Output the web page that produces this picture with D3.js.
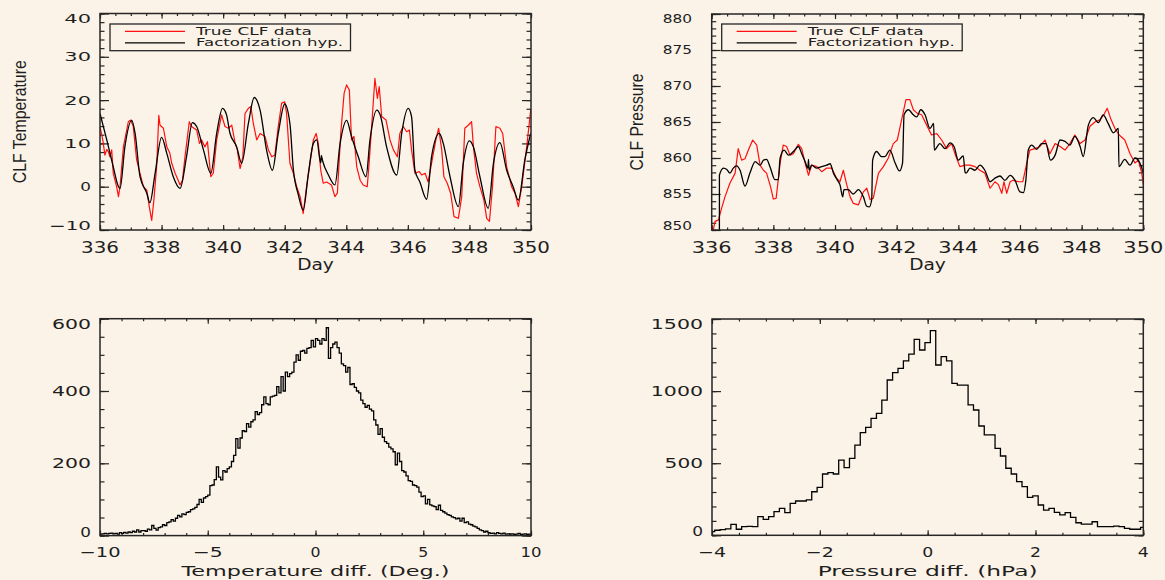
<!DOCTYPE html>
<html><head><meta charset="utf-8">
<script src="https://cdn.jsdelivr.net/npm/d3@7"></script>
<style>body{margin:0;background:#FBF3E7}svg{display:block}</style>
</head><body><svg id="c" width="1165" height="580"></svg>
<script>
// ---------------- DATA ----------------
const legendLabels = ["True CLF data", "Factorization hyp."];

// Temperature time series [day, value]
const tempTrue = [[336.00,13.9],[336.09,10.8],[336.16,7.3],[336.22,8.6],[336.27,8.1],[336.32,6.9],[336.38,8.5],[336.43,3.1],[336.54,0.0],[336.60,-2.3],[336.65,0.0],[336.76,9.2],[336.92,15.0],[337.00,15.4],[337.08,13.9],[337.19,6.2],[337.30,3.1],[337.41,0.0],[337.52,-0.8],[337.60,-4.6],[337.68,-7.8],[337.75,-3.1],[337.84,4.6],[337.91,16.5],[337.95,14.2],[338.06,13.5],[338.17,9.2],[338.27,7.7],[338.33,5.4],[338.44,3.1],[338.54,1.5],[338.60,0.4],[338.68,1.5],[338.76,6.9],[338.90,15.0],[338.97,13.9],[339.14,13.1],[339.23,10.0],[339.30,10.8],[339.41,9.2],[339.49,10.4],[339.60,2.3],[339.68,3.1],[339.79,10.8],[339.95,16.6],[340.06,13.9],[340.17,13.5],[340.28,14.2],[340.39,10.0],[340.46,8.5],[340.55,4.2],[340.64,6.9],[340.71,16.9],[340.82,18.1],[340.90,18.5],[340.98,14.6],[341.09,10.8],[341.20,12.3],[341.36,11.6],[341.47,8.5],[341.58,6.9],[341.68,7.3],[341.79,13.9],[341.90,19.3],[342.00,19.6],[342.06,17.0],[342.17,5.4],[342.28,3.1],[342.39,0.0],[342.50,-2.3],[342.60,-6.2],[342.71,0.0],[342.82,5.4],[342.93,10.8],[343.02,12.3],[343.09,10.0],[343.17,3.8],[343.25,0.8],[343.36,1.1],[343.52,0.4],[343.63,-2.3],[343.71,-1.5],[343.82,12.3],[343.93,21.6],[344.01,23.5],[344.10,22.3],[344.17,10.8],[344.25,11.6],[344.34,4.6],[344.45,1.5],[344.55,0.4],[344.68,0.0],[344.75,6.2],[344.86,17.7],[344.93,25.0],[345.01,20.4],[345.07,23.1],[345.15,16.2],[345.29,15.4],[345.42,10.8],[345.53,8.5],[345.66,6.9],[345.74,12.3],[345.85,13.9],[345.96,12.7],[346.05,13.1],[346.12,8.5],[346.23,3.1],[346.37,3.5],[346.45,2.7],[346.56,3.1],[346.66,1.1],[346.77,5.4],[346.91,10.8],[347.00,13.5],[347.10,8.5],[347.17,2.3],[347.28,0.8],[347.39,-1.5],[347.50,-6.9],[347.64,-7.3],[347.75,-2.3],[347.85,13.5],[347.96,14.2],[348.07,15.0],[348.13,9.2],[348.23,3.1],[348.34,0.0],[348.47,-3.1],[348.56,-7.3],[348.65,-8.0],[348.75,0.0],[348.86,13.9],[348.99,13.5],[349.08,12.3],[349.21,4.6],[349.37,0.0],[349.48,-1.5],[349.59,-4.6],[349.70,0.0],[349.86,9.2],[349.99,17.7]];

const tempFact = [[336.00,16.9],[336.22,10.8],[336.43,4.6],[336.60,0.0],[336.65,-0.4],[336.81,9.3],[337.03,15.3],[337.14,12.3],[337.30,2.3],[337.52,-1.5],[337.62,-3.7],[337.79,3.1],[338.00,11.4],[338.17,7.7],[338.38,2.3],[338.60,-0.4],[338.81,6.9],[339.00,14.8],[339.14,13.9],[339.36,8.5],[339.60,3.1],[339.79,12.3],[339.98,18.1],[340.11,16.6],[340.22,12.4],[340.44,9.2],[340.60,5.4],[340.82,14.6],[341.01,20.6],[341.20,17.7],[341.41,8.5],[341.60,3.8],[341.79,12.3],[342.00,19.1],[342.17,14.5],[342.28,4.0],[342.44,-1.8],[342.60,-5.4],[342.77,3.1],[342.93,10.0],[343.04,10.8],[343.17,5.5],[343.19,7.2],[343.23,6.0],[343.42,2.7],[343.63,0.4],[343.80,10.0],[344.01,15.3],[344.17,11.6],[344.39,6.9],[344.64,2.3],[344.77,10.8],[344.99,17.7],[345.10,16.6],[345.31,9.2],[345.64,2.7],[345.80,12.3],[346.01,18.1],[346.12,16.2],[346.23,3.8],[346.39,1.1],[346.61,-2.9],[346.77,6.9],[347.02,12.3],[347.15,10.0],[347.37,2.3],[347.64,-4.6],[347.80,5.4],[348.00,10.6],[348.13,9.2],[348.34,2.3],[348.61,-5.0],[348.78,5.4],[348.99,10.2],[349.21,3.8],[349.42,0.0],[349.59,-3.1],[349.80,6.2],[349.99,12.3]];

// Pressure time series [day, value]
const presTrue = [[336.00,849.0],[336.05,850.0],[336.11,851.2],[336.22,851.4],[336.32,853.0],[336.43,854.6],[336.59,856.5],[336.76,857.9],[336.86,861.3],[336.97,859.7],[337.08,859.9],[337.19,861.1],[337.33,862.5],[337.46,861.8],[337.57,859.0],[337.68,858.3],[337.78,857.9],[337.91,856.0],[338.00,854.3],[338.09,854.4],[338.22,859.3],[338.32,861.8],[338.43,861.6],[338.54,860.4],[338.65,860.6],[338.81,861.9],[338.92,861.3],[339.03,859.3],[339.14,857.6],[339.24,859.0],[339.41,858.8],[339.57,858.1],[339.73,858.6],[339.89,858.6],[340.05,857.2],[340.16,856.7],[340.27,858.3],[340.38,856.3],[340.49,854.6],[340.59,853.7],[340.76,853.5],[340.92,855.3],[341.03,855.8],[341.14,854.2],[341.24,854.4],[341.41,857.9],[341.57,858.8],[341.73,860.0],[341.89,862.0],[342.02,862.5],[342.16,865.3],[342.30,868.1],[342.43,868.1],[342.54,866.7],[342.67,866.2],[342.81,866.0],[342.97,864.6],[343.13,863.2],[343.30,863.4],[343.46,862.5],[343.62,861.3],[343.78,862.0],[343.89,860.6],[344.05,858.8],[344.22,859.0],[344.38,859.0],[344.54,858.8],[344.70,858.3],[344.86,857.9],[345.03,855.8],[345.19,856.7],[345.30,856.3],[345.41,855.1],[345.48,856.7],[345.57,855.1],[345.68,856.7],[345.78,856.9],[345.95,856.7],[346.09,856.7],[346.22,859.3],[346.32,861.1],[346.49,861.3],[346.65,861.6],[346.81,862.5],[346.97,860.6],[347.14,862.0],[347.30,861.6],[347.46,861.1],[347.62,862.0],[347.78,863.2],[347.95,862.0],[348.11,862.5],[348.27,864.4],[348.43,865.0],[348.59,865.3],[348.72,866.0],[348.83,866.9],[348.94,865.5],[349.08,864.1],[349.22,863.2],[349.40,862.5],[349.57,860.6],[349.73,859.3],[349.84,859.7],[349.95,857.9],[350.00,856.3]];

const presFact = [[336.25,849.0],[336.25,857.6],[336.38,858.6],[336.49,858.4],[336.59,857.9],[336.70,858.6],[336.81,858.9],[336.92,858.3],[337.08,856.1],[337.24,857.9],[337.41,859.5],[337.57,859.0],[337.68,859.7],[337.78,859.8],[337.89,858.8],[338.05,857.0],[338.16,857.0],[338.22,860.0],[338.35,861.1],[338.49,860.4],[338.65,860.9],[338.81,861.6],[338.92,860.6],[339.03,859.5],[339.12,858.6],[339.14,859.8],[339.16,858.3],[339.24,859.0],[339.41,858.6],[339.57,858.8],[339.73,859.0],[339.84,859.2],[339.95,857.9],[340.08,856.9],[340.16,856.3],[340.25,854.6],[340.29,855.6],[340.43,855.6],[340.59,855.0],[340.76,855.6],[340.92,854.6],[341.03,853.3],[341.11,853.2],[341.19,854.2],[341.22,859.7],[341.35,860.9],[341.51,860.2],[341.62,860.2],[341.78,861.1],[341.95,859.3],[342.09,858.2],[342.19,859.3],[342.24,866.0],[342.38,866.7],[342.54,866.0],[342.65,865.7],[342.78,866.7],[342.92,866.0],[343.08,864.1],[343.20,864.8],[343.22,861.1],[343.40,862.0],[343.57,861.3],[343.73,862.1],[343.86,861.6],[344.00,859.7],[344.16,860.3],[344.22,858.0],[344.25,857.9],[344.38,858.6],[344.54,858.3],[344.70,859.0],[344.86,858.3],[345.03,856.7],[345.19,857.2],[345.35,857.5],[345.51,856.9],[345.68,857.6],[345.84,856.9],[346.00,855.3],[346.11,855.2],[346.19,856.9],[346.27,861.1],[346.38,861.8],[346.54,861.2],[346.70,862.0],[346.84,862.0],[346.99,859.7],[347.14,860.4],[347.30,862.5],[347.46,862.3],[347.62,861.8],[347.78,863.0],[347.95,861.6],[348.05,860.2],[348.22,864.6],[348.38,865.6],[348.54,864.9],[348.70,866.0],[348.86,864.8],[349.03,863.5],[349.19,864.1],[349.21,858.8],[349.40,859.8],[349.57,859.0],[349.73,860.0],[349.89,859.3],[350.00,857.9]];

// Histogram of temperature differences: bins of 0.1 deg from -10 to 10
const tempDiffStart = -10, tempDiffWidth = 0.1;
const tempDiffCounts = [4,5,6,5,6,7,5,6,4,8, 6,9,7,10,8,12,10,16,10,14,
 14,12,18,16,28,20,15,22,24,30, 28,36,38,44,40,48,56,52,60,58,
 64,66,72,74,78,86,100,92,104,108, 112,138,140,155,190,162,154,180,176,185,
 190,205,222,268,242,270,290,288,310,300, 315,320,343,335,340,362,384,365,362,384,
 386,388,412,395,440,400,452,440,448,452, 480,500,485,510,512,505,518,520,540,522,
 545,540,530,545,540,575,490,520,530,535, 520,505,475,470,452,465,418,420,410,400,
 395,375,365,355,360,350,345,320,306,280, 296,272,260,255,245,240,232,196,228,205,
 180,176,165,152,150,140,138,134,120,108, 110,88,100,85,82,80,72,84,70,66,
 62,58,56,52,50,46,48,40,48,36, 38,32,30,26,24,20,16,14,10,12,
 8,6,7,5,8,6,5,7,4,5, 4,5,3,4,6,3,4,5,3,4];

// Histogram of pressure differences: bins of 0.1 hPa starting at -4.05
const presDiffStart = -4.05, presDiffWidth = 0.1;
const presDiffCounts = [25,35,40,45,76,42,60,62,60,129, 111,129,164,187,157,222,238,238,245,302,
 333,425,434,425,522,469,534,626,712,749, 811,846,938,1077,1128,1158,1209,1257,1359,1285,
 1336,1419,1181,1239,1209,1054,1042,1042,904,869, 758,696,696,603,550,465,425,372,337,263,
 273,210,175,187,159,141,157,125,87,78, 78,94,60,60,60,64,60,48,42,42, 55];

// ---------------- DRAWING ----------------
const BG = "#FBF3E7", AX = "#262626", RED = "#FF1010";
const svg = d3.select("#c");
svg.append("rect").attr("width",1165).attr("height",580).attr("fill",BG);
const defs = svg.append("defs");
const FONT = "DejaVu Sans";

function fmt(v){ const s = String(Math.abs(v)); return (v<0?"\u2212":"") + s; }

function label(g, txt, x, yc, anchor, fs, w) {
  g.append("text").attr("x",x).attr("y",yc + 0.36*fs)
   .attr("text-anchor",anchor).attr("font-family",FONT).attr("font-size",fs)
   .attr("textLength",w).attr("lengthAdjust","spacingAndGlyphs")
   .attr("fill","#1e1e1e").text(txt);
}

function panel(c, id) {
  const x = d3.scaleLinear().domain(c.xdom).range([c.x0,c.x1]);
  const y = d3.scaleLinear().domain(c.ydom).range([c.y1,c.y0]);
  const g = svg.append("g");
  defs.append("clipPath").attr("id",id).append("rect")
    .attr("x",c.x0).attr("y",c.y0).attr("width",c.x1-c.x0).attr("height",c.y1-c.y0);

  const xMaj = d3.range(c.xdom[0], c.xdom[1]+1e-9, c.xStep);
  const xMin = d3.range(c.xdom[0], c.xdom[1]+1e-9, c.xMinor);
  const yMaj = d3.range(c.ydom[0], c.ydom[1]+1e-9, c.yStep);
  const yMin = d3.range(c.ydom[0], c.ydom[1]+1e-9, c.yMinor);
  const ax = (gen, tr) => g.append("g").attr("transform",tr).call(gen).call(s=>{
    s.selectAll("text").remove(); s.select(".domain").remove();
    s.selectAll("line").attr("stroke",AX).attr("stroke-width",1.2);
  });
  ax(d3.axisBottom(x).tickValues(xMaj).tickSize(-c.xTick), `translate(0,${c.y1})`);
  ax(d3.axisBottom(x).tickValues(xMin).tickSize(-c.xTick/2), `translate(0,${c.y1})`);
  ax(d3.axisTop(x).tickValues(xMaj).tickSize(-c.xTick), `translate(0,${c.y0})`);
  ax(d3.axisTop(x).tickValues(xMin).tickSize(-c.xTick/2), `translate(0,${c.y0})`);
  ax(d3.axisLeft(y).tickValues(yMaj).tickSize(-c.yTick), `translate(${c.x0},0)`);
  ax(d3.axisLeft(y).tickValues(yMin).tickSize(-c.yTick/2), `translate(${c.x0},0)`);
  ax(d3.axisRight(y).tickValues(yMaj).tickSize(-c.yTick), `translate(${c.x1},0)`);
  ax(d3.axisRight(y).tickValues(yMin).tickSize(-c.yTick/2), `translate(${c.x1},0)`);

  xMaj.forEach(v=>{
    const t = fmt(v), nd = String(Math.abs(v)).length;
    label(g, t, x(v), c.xLabY, "middle", c.xFs, c.xW(nd, v<0));
  });
  yMaj.forEach(v=>{
    const t = fmt(v), nd = String(Math.abs(v)).length;
    let yc = y(v);
    yc = Math.max(c.y0+5, Math.min(c.y1-4, yc));
    label(g, t, c.yLabX, yc, "end", c.yFs, c.yW(nd, v<0));
  });
  label(g, c.xTitle, (c.x0+c.x1)/2, c.xTitleY, "middle", c.xTitleFs, c.xTitleW);
  if (c.yTitle) {
    g.append("text").attr("transform",`translate(${c.yTitleX},${(c.y0+c.y1)/2}) rotate(-90)`)
      .attr("text-anchor","middle").attr("font-family","Liberation Sans Narrow, Liberation Sans")
      .attr("font-size",18).attr("textLength",c.yTitleW).attr("lengthAdjust","spacingAndGlyphs")
      .attr("fill","#1e1e1e").text(c.yTitle);
  }
  const plot = g.append("g").attr("clip-path",`url(#${id})`);
  return {x, y, g, plot};
}

function frame(p, c){
  p.g.append("rect").attr("x",c.x0).attr("y",c.y0).attr("width",c.x1-c.x0).attr("height",c.y1-c.y0)
    .attr("fill","none").attr("stroke",AX).attr("stroke-width",1.5);
}

function legend(p, c){
  const lx = c.x0 + 10, ly = 24;
  const lg = p.g.append("g");
  lg.append("rect").attr("x",lx).attr("y",ly).attr("width",240.5).attr("height",26.7)
    .attr("fill",BG).attr("stroke",AX).attr("stroke-width",1.3);
  const rows = [[RED, 31.3, 116], ["#000", 42.8, 147]];
  rows.forEach((r,i)=>{
    lg.append("line").attr("x1",c.x0+25).attr("x2",c.x0+85).attr("y1",r[1]).attr("y2",r[1])
      .attr("stroke",r[0]).attr("stroke-width",1.3);
    label(lg, legendLabels[i], c.x0+96, r[1], "start", 9.6, r[2]);
  });
}

const tsCommon = {xdom:[336,350], xStep:2, xMinor:0.5, xTick:5, yTick:9,
  xLabY:247, xFs:16, xTitle:"Day", xTitleY:265, xTitleFs:15, xTitleW:36.7, y0:13.5, y1:230};

// Panel 1: temperature
const c1 = Object.assign({}, tsCommon, {x0:100, x1:531, ydom:[-10,40], yStep:10, yMinor:2,
  yLabX:91, yFs:12.3, yW:(nd,neg)=>16*nd-5.3+(neg?15.3:0), xW:(nd)=>13.3*nd-2,
  yTitle:"CLF Temperature", yTitleX:26, yTitleW:123});
const p1 = panel(c1, "cp1");
const line1 = d3.line().x(d=>p1.x(d[0])).y(d=>p1.y(d[1]));
const smooth1 = d3.line().curve(d3.curveMonotoneX).x(d=>p1.x(d[0])).y(d=>p1.y(d[1]));
p1.plot.append("path").attr("d",line1(tempTrue)).attr("fill","none").attr("stroke",RED).attr("stroke-width",1.2).attr("stroke-linejoin","round");
p1.plot.append("path").attr("d",smooth1(tempFact)).attr("fill","none").attr("stroke","#000").attr("stroke-width",1.3).attr("stroke-linejoin","round");
frame(p1,c1); legend(p1,c1);

// Panel 2: pressure
const c2 = Object.assign({}, tsCommon, {x0:711.7, x1:1143.3, y0:14, ydom:[850,880], yStep:5, yMinor:1,
  yLabX:692, yFs:12.3, yW:(nd)=>10*nd-0.7, xW:(nd)=>13.3*nd,
  yTitle:"CLF Pressure", yTitleX:642.7, yTitleW:97});
const p2 = panel(c2, "cp2");
const line2 = d3.line().x(d=>p2.x(d[0])).y(d=>p2.y(d[1]));
const smooth2 = d3.line().curve(d3.curveMonotoneX).x(d=>p2.x(d[0])).y(d=>p2.y(d[1]));
p2.plot.append("path").attr("d",line2(presTrue)).attr("fill","none").attr("stroke",RED).attr("stroke-width",1.2).attr("stroke-linejoin","round");
p2.plot.append("path").attr("d",smooth2(presFact)).attr("fill","none").attr("stroke","#000").attr("stroke-width",1.3).attr("stroke-linejoin","round");
frame(p2,c2); legend(p2,c2);

// Panel 3: temperature diff histogram
const c3 = {x0:100, x1:531, y0:318.7, y1:535.6, xdom:[-10,10], xStep:5, xMinor:1, ydom:[0,600], yStep:200, yMinor:50,
  xTick:5, yTick:9, xLabY:552, xFs:13.7, yLabX:91, yFs:13.7,
  xW:(nd,neg)=>11*nd-1+(neg?20:0), yW:(nd)=>14.15*nd-3.45,
  xTitle:"Temperature diff. (Deg.)", xTitleY:571, xTitleFs:13.5, xTitleW:268};
const p3 = panel(c3, "cp3");
const h3 = tempDiffCounts.map((v,i)=>[tempDiffStart + tempDiffWidth*i, v]);
h3.push([tempDiffStart + tempDiffWidth*tempDiffCounts.length, tempDiffCounts[tempDiffCounts.length-1]]);
const step3 = d3.line().curve(d3.curveStepAfter).x(d=>p3.x(d[0])).y(d=>p3.y(d[1]));
p3.plot.append("path").attr("d",step3(h3)).attr("fill","none").attr("stroke","#000").attr("stroke-width",1.3);
frame(p3,c3);

// Panel 4: pressure diff histogram
const c4 = {x0:712, x1:1143.3, y0:319, y1:535.3, xdom:[-4,4], xStep:2, xMinor:0.5, ydom:[0,1500], yStep:500, yMinor:100,
  xTick:5, yTick:9, xLabY:552.5, xFs:13.7, yLabX:703, yFs:13.7,
  xW:(nd,neg)=>11*nd+(neg?17:0), yW:(nd)=>13.8*nd-3,
  xTitle:"Pressure diff. (hPa)", xTitleY:571, xTitleFs:13.5, xTitleW:220};
const p4 = panel(c4, "cp4");
const h4 = presDiffCounts.map((v,i)=>[presDiffStart + presDiffWidth*i, v]);
h4.push([presDiffStart + presDiffWidth*presDiffCounts.length, presDiffCounts[presDiffCounts.length-1]]);
const step4 = d3.line().curve(d3.curveStepAfter).x(d=>p4.x(d[0])).y(d=>p4.y(d[1]));
p4.plot.append("path").attr("d",step4(h4)).attr("fill","none").attr("stroke","#000").attr("stroke-width",1.3);
frame(p4,c4);
</script>
</body></html>
